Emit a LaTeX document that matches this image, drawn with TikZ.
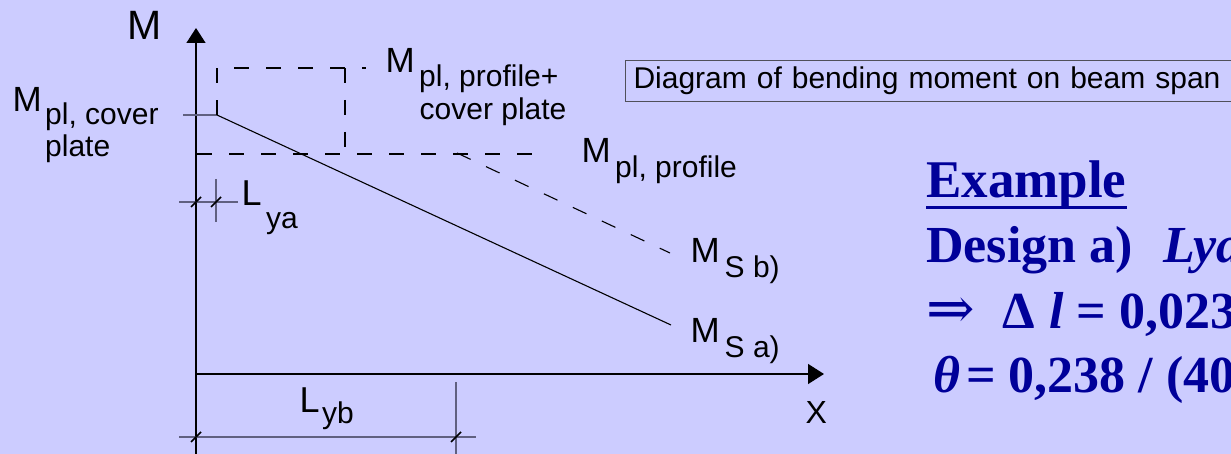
\documentclass[tikz,border=0pt]{standalone}
\usepackage{fontspec}
\setmainfont{Liberation Sans}
\newfontfamily\tnr{Liberation Serif}
\newfontfamily\dvs{DejaVu Serif}
\usetikzlibrary{arrows.meta}
\definecolor{bg}{RGB}{204,204,255}
\definecolor{dimgray}{RGB}{96,96,128}
\definecolor{navy}{RGB}{0,0,153}
\definecolor{boxgray}{RGB}{80,80,90}
\begin{document}
\begin{tikzpicture}[x=1pt,y=-1pt,
  lbl/.style={anchor=base west, inner sep=0pt, font=\fontsize{35}{35}\selectfont},
  sublbl/.style={anchor=base west, inner sep=0pt, font=\fontsize{30}{30}\selectfont},
  axisline/.style={line width=1.4pt, black},
  curveln/.style={line width=1.1pt, black},
  dashln/.style={line width=1.1pt, black, dash pattern=on 15pt off 17pt},
  dimln/.style={line width=1.8pt, dimgray},
  tickmk/.style={line width=1.5pt, black},
  bluetxt/.style={anchor=base west, inner sep=0pt, text=navy, font=\tnr\bfseries\fontsize{52}{52}\selectfont}
]
\fill[bg] (0,0) rectangle (1231,454);
\useasboundingbox (0,0) rectangle (1231,454);

% axes
\coordinate (O) at (196,374);
\coordinate (Ytop) at (196,28);
\coordinate (Ybot) at (196,460);
\coordinate (Xtip) at (824,374);
\draw[axisline,-{Triangle[length=15pt,width=19pt]}] (Ybot) -- (Ytop);
\draw[axisline,-{Triangle[length=16pt,width=20pt]}] (O) -- (Xtip);

% moment lines
\coordinate (Tc0) at (183,115);
\coordinate (Pa) at (217,115);
\coordinate (Ea) at (671,325);
\draw[dimln, line width=2pt] (Tc0) -- (Pa);
\draw[curveln] (Pa) -- (Ea);
\coordinate (R1) at (217,68);
\coordinate (R2) at (345,68);
\coordinate (R3) at (366,68);
\coordinate (R4) at (345,154);
\draw[dashln] (Pa) -- (R1) -- (R3);
\draw[dashln] (R2) -- (R4);
\coordinate (H0) at (197,154);
\coordinate (H1) at (546,154);
\draw[dashln] (H0) -- (H1);
\coordinate (Sb0) at (457,153);
\coordinate (Eb) at (670,253);
\draw[dashln] (Sb0) -- (Eb);

% dimension L_ya
\coordinate (A0) at (179,202);
\coordinate (A1) at (238,202);
\coordinate (Ae0) at (216,179);
\coordinate (Ae1) at (216,222);
\coordinate (Ta1) at (196,202);
\coordinate (Ta2) at (216,202);
\draw[dimln] (A0) -- (A1);
\draw[dimln] (Ae0) -- (Ae1);
\draw[tickmk] ([shift={(-5,5)}]Ta1) -- ([shift={(5,-5)}]Ta1);
\draw[tickmk] ([shift={(-5,5)}]Ta2) -- ([shift={(5,-5)}]Ta2);

% dimension L_yb
\coordinate (B0) at (179,437);
\coordinate (B1) at (476,437);
\coordinate (Be0) at (456,382);
\coordinate (Be1) at (456,460);
\coordinate (Tb1) at (196,437);
\coordinate (Tb2) at (456,437);
\draw[dimln] (B0) -- (B1);
\draw[dimln] (Be0) -- (Be1);
\draw[tickmk] ([shift={(-5,5)}]Tb1) -- ([shift={(5,-5)}]Tb1);
\draw[tickmk] ([shift={(-5,5)}]Tb2) -- ([shift={(5,-5)}]Tb2);

% labels
\node[lbl, font=\fontsize{41}{41}\selectfont] (Mlab) at (127,40) {M};
\node[lbl] (Mc) at (12.5,112) {M};
\node[sublbl] (Mcs1) at (45,125) {pl, cover};
\node[sublbl] (Mcs2) at (45,157) {plate};
\node[lbl] (Mp2) at (385.5,73) {M};
\node[sublbl] (Mp2s1) at (419,87) {pl, profile+};
\node[sublbl] (Mp2s2) at (419.5,120) {cover plate};
\node[lbl] (Mp) at (581.5,163) {M};
\node[sublbl] (Mps) at (615,178) {pl, profile};
\node[lbl] (Msb) at (690.5,263) {M};
\node[sublbl] (Msbs) at (724.5,277) {S b)};
\node[lbl] (Msa) at (690.5,342) {M};
\node[sublbl] (Msas) at (724.5,357) {S a)};
\node[lbl, font=\fontsize{36}{36}\selectfont] (La) at (241.5,206) {L};
\node[sublbl] (Las) at (266,229) {ya};
\node[lbl, font=\fontsize{36}{36}\selectfont] (Lb) at (299.5,412) {L};
\node[sublbl] (Lbs) at (322,423) {yb};
\node[lbl, font=\fontsize{32}{32}\selectfont] (Xlab) at (805.5,423) {X};

% caption box
\node[draw=boxgray, line width=1pt, anchor=north west, minimum height=41pt,
      inner xsep=8pt, inner ysep=0pt, text width=599pt, align=left,
      text height=22pt, text depth=7pt, font=\fontsize{30}{30}\selectfont]
      (cap) at (625,60) {Diagram of bending moment on beam span};

% blue text
\node[bluetxt, font=\tnr\bfseries\fontsize{53}{53}\selectfont] (ex) at (926,198) {Example};
\draw[navy, line width=3pt] ([yshift=-10pt]ex.base west) -- ([yshift=-10pt]ex.base east);
\node[bluetxt] (da) at (926,263) {Design a)\hspace{31pt}\itshape Lya};
\node[bluetxt] (dl) at (926,328) {{\dvs\mdseries\fontsize{58}{58}\selectfont ⇒}\hspace{28pt}Δ\hspace{14pt}\textit{l} = 0,023};
\node[bluetxt] (th) at (933,392) {\textit{θ}\hspace{6pt}= 0,238 / (40};
\end{tikzpicture}
\end{document}
